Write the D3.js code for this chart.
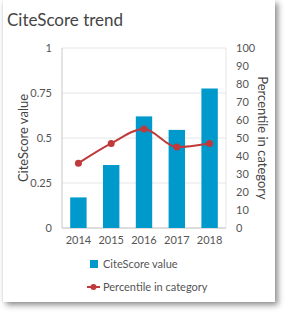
<!DOCTYPE html>
<html>
<head>
<meta charset="utf-8">
<script src="https://cdn.jsdelivr.net/npm/d3@7"></script>
<style>
  body { margin: 0; background: #fff; font-family: Lato, "Open Sans", sans-serif; }
  #card {
    position: absolute; left: 3px; top: 0; width: 272px; height: 302px;
    background: #fff; box-shadow: 3px 3px 6px rgba(0,0,0,0.45), -1px 0 2px rgba(0,0,0,0.06);
  }
  svg { position: absolute; left: 0; top: 0; }
</style>
</head>
<body>
<div id="card"></div>
<div id="chart"></div>
<script>
const years = ["2014", "2015", "2016", "2017", "2018"];
const citeScore = [0.17, 0.35, 0.62, 0.545, 0.775];
const percentile = [36, 47, 55, 45, 47];
const leftTicks = [0, 0.25, 0.5, 0.75, 1];
const rightTicks = [0, 10, 20, 30, 40, 50, 60, 70, 80, 90, 100];

const width = 289, height = 314;
const plot = { left: 62, right: 226, top: 48, bottom: 228 };

const svg = d3.select("#chart").append("svg").attr("width", width).attr("height", height);

svg.append("text")
  .attr("x", 7).attr("y", 26)
  .attr("fill", "#444").attr("font-size", "17px")
  .text("CiteScore trend");

const x = d3.scaleBand().domain(years).range([plot.left, plot.right]).paddingInner(0.5).paddingOuter(0.25);
const yL = d3.scaleLinear().domain([0, 1]).range([plot.bottom, plot.top]);
const yR = d3.scaleLinear().domain([0, 100]).range([plot.bottom, plot.top]);

// grid
svg.selectAll(".grid")
  .data(leftTicks)
  .enter()
  .append("line")
  .attr("x1", plot.left).attr("x2", plot.right)
  .attr("y1", d => yL(d)).attr("y2", d => yL(d))
  .attr("stroke", "#e6e6e6").attr("stroke-width", 1);

svg.append("line")
  .attr("x1", plot.right).attr("x2", plot.right)
  .attr("y1", plot.top).attr("y2", plot.bottom)
  .attr("stroke", "#e6e6e6");
svg.append("line")
  .attr("x1", plot.left).attr("x2", plot.left)
  .attr("y1", plot.top).attr("y2", plot.bottom)
  .attr("stroke", "#c8c8c8");
svg.append("line")
  .attr("x1", plot.left).attr("x2", plot.right)
  .attr("y1", plot.bottom).attr("y2", plot.bottom)
  .attr("stroke", "#c8c8c8");

// bars
svg.selectAll(".bar")
  .data(years)
  .enter()
  .append("rect")
  .attr("x", d => x(d))
  .attr("width", x.bandwidth())
  .attr("y", (d, i) => yL(citeScore[i]))
  .attr("height", (d, i) => plot.bottom - yL(citeScore[i]))
  .attr("fill", "#0099cc");

// line
const line = d3.line()
  .x((d, i) => x(years[i]) + x.bandwidth() / 2)
  .y(d => yR(d))
  .curve(d3.curveMonotoneX);

svg.append("path")
  .datum(percentile)
  .attr("d", line)
  .attr("fill", "none")
  .attr("stroke", "#c0393b")
  .attr("stroke-width", 2);

svg.selectAll(".pt")
  .data(percentile)
  .enter()
  .append("circle")
  .attr("cx", (d, i) => x(years[i]) + x.bandwidth() / 2)
  .attr("cy", d => yR(d))
  .attr("r", 3.5)
  .attr("fill", "#c0393b");

// axes labels
svg.selectAll(".ltick")
  .data(leftTicks)
  .enter()
  .append("text")
  .attr("x", plot.left - 10).attr("y", d => yL(d) + 4)
  .attr("text-anchor", "end")
  .attr("fill", "#555").attr("font-size", "11px")
  .text(d => d);

svg.selectAll(".rtick")
  .data(rightTicks)
  .enter()
  .append("text")
  .attr("x", plot.right + 10).attr("y", d => yR(d) + 4)
  .attr("fill", "#555").attr("font-size", "11px")
  .text(d => d);

svg.selectAll(".xtick")
  .data(years)
  .enter()
  .append("text")
  .attr("x", d => x(d) + x.bandwidth() / 2).attr("y", plot.bottom + 16)
  .attr("text-anchor", "middle")
  .attr("fill", "#555").attr("font-size", "11px")
  .text(d => d);

svg.append("text")
  .attr("transform", `translate(28,${(plot.top + plot.bottom) / 2}) rotate(-90)`)
  .attr("text-anchor", "middle")
  .attr("fill", "#444").attr("font-size", "13px")
  .text("CiteScore value");

svg.append("text")
  .attr("transform", `translate(258,${(plot.top + plot.bottom) / 2}) rotate(90)`)
  .attr("text-anchor", "middle")
  .attr("fill", "#444").attr("font-size", "13px")
  .text("Percentile in category");

// legend
svg.append("rect")
  .attr("x", 90).attr("y", 260).attr("width", 8).attr("height", 8)
  .attr("fill", "#0099cc");
svg.append("text")
  .attr("x", 103).attr("y", 268)
  .attr("fill", "#555").attr("font-size", "11px")
  .text("CiteScore value");

svg.append("line")
  .attr("x1", 87).attr("x2", 100).attr("y1", 287).attr("y2", 287)
  .attr("stroke", "#c0393b").attr("stroke-width", 2);
svg.append("circle")
  .attr("cx", 93.5).attr("cy", 287).attr("r", 3)
  .attr("fill", "#c0393b");
svg.append("text")
  .attr("x", 103).attr("y", 291)
  .attr("fill", "#555").attr("font-size", "11px")
  .text("Percentile in category");
</script>
</body>
</html>
